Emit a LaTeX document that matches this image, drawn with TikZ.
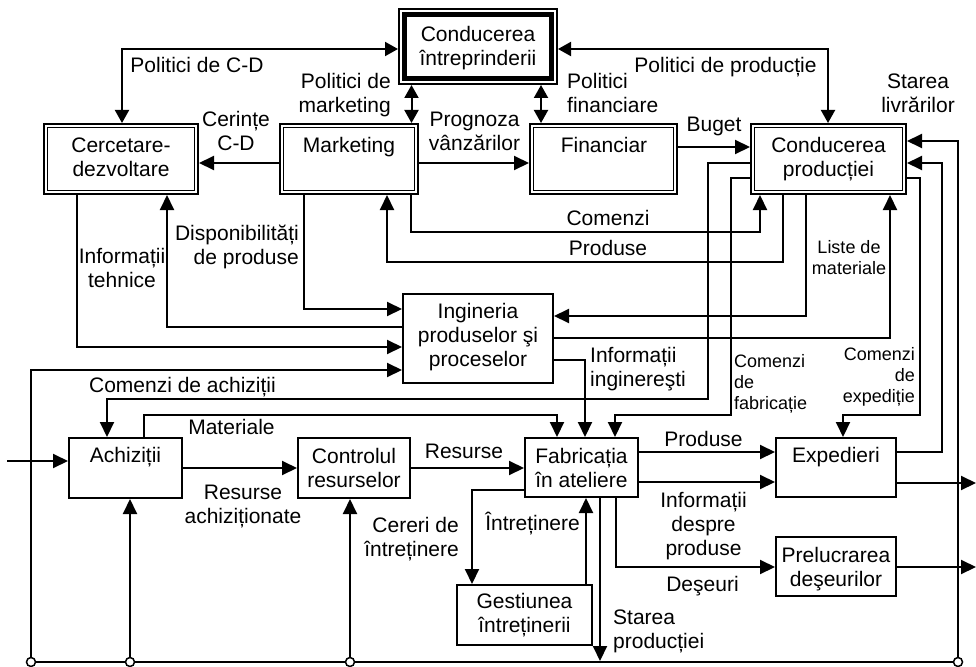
\documentclass[tikz,border=0pt]{standalone}
\usepackage{fontspec}
\setmainfont{Liberation Sans}
\usetikzlibrary{arrows.meta}
\newcommand{\sr}{\rule[-4.5pt]{0pt}{24pt}}
\newcommand{\ssr}{\rule[-4pt]{0pt}{20.9pt}}
\begin{document}
\begin{tikzpicture}[x=1pt,y=-1pt,
  every node/.style={inner sep=0pt},
  ln/.style={line width=2pt},
  ar/.style={ln,-{Triangle[length=15pt,width=14pt]}},
  ar2/.style={ln,{Triangle[length=13pt,width=14pt]}-{Triangle[length=13pt,width=14pt]}},
  dbox/.style={draw,line width=1.7pt,double,double distance=2pt,outer sep=2.7pt},
  sbox/.style={draw,line width=2pt},
  txt/.style={font=\fontsize{21}{24}\selectfont,align=center},
  stxt/.style={font=\fontsize{18}{21}\selectfont,align=center},
  bus/.style={circle,draw,fill=white,line width=1.5pt,minimum size=9pt},
]
\useasboundingbox (0,0) rectangle (976,666);

% boxes
\node[sbox,line width=1.7pt,minimum width=158.3pt,minimum height=75.3pt] (ci) at (478,46.5) {};
\draw[line width=5.5pt] ([shift={(6.7,6.7)}]ci.north west) rectangle ([shift={(-6.7,-6.7)}]ci.south east);
\node[dbox,minimum width=150.6pt,minimum height=66.6pt] (cd) at (121,159) {};
\node[dbox,minimum width=134.6pt,minimum height=66.6pt] (mk) at (349,159) {};
\node[dbox,minimum width=143.6pt,minimum height=66.6pt] (fi) at (603.5,159) {};
\node[dbox,minimum width=151.6pt,minimum height=66.6pt] (cp) at (828.5,159) {};
\node[sbox,minimum width=150pt,minimum height=89pt] (ip) at (478,338.5) {};
\node[sbox,minimum width=113pt,minimum height=60pt] (ac) at (125.5,468) {};
\node[sbox,minimum width=112pt,minimum height=60pt] (cr) at (354,468) {};
\node[sbox,minimum width=113pt,minimum height=59pt] (fa) at (581.5,467.5) {};
\node[sbox,minimum width=120pt,minimum height=59pt] (ex) at (836,467.5) {};
\node[sbox,minimum width=120pt,minimum height=59pt] (pd) at (836,566.5) {};
\node[sbox,minimum width=135pt,minimum height=60pt] (gi) at (524.5,615) {};

% box texts
\node[txt] (ciT) at (478,46.5) {\sr Conducerea\\\sr întreprinderii};
\node[txt] (cdT) at (121,156.5) {\sr Cercetare-\\\sr dezvoltare};
\node[txt] (mkT) at (349,144.5) {\sr Marketing};
\node[txt] (fiT) at (604,144.5) {\sr Financiar};
\node[txt] (cpT) at (828.5,157) {\sr Conducerea\\\sr producției};
\node[txt] (ipT) at (478,334.5) {\sr Ingineria\\\sr produselor şi\\\sr proceselor};
\node[txt] (acT) at (125.5,455) {\sr Achiziții};
\node[txt] (crT) at (354,467.5) {\sr Controlul\\\sr resurselor};
\node[txt] (faT) at (581.5,467.5) {\sr Fabricația\\\sr în ateliere};
\node[txt] (exT) at (836,455) {\sr Expedieri};
\node[txt] (pdT) at (836,566.5) {\sr Prelucrarea\\\sr deşeurilor};
\node[txt] (giT) at (524.5,613) {\sr Gestiunea\\\sr întreținerii};

% bus
\node[bus] (b1) at (31,662) {};
\node[bus] (b2) at (130,662) {};
\node[bus] (b3) at (350,662) {};
\node[bus] (b4) at (958,662) {};
\draw[ln] (b1.east) -- (b2.west) (b2.east) -- (b3.west) (b3.east) -- (b4.west);
\coordinate (in) at (7,461);
\coordinate (o1) at (976,483);
\coordinate (o2) at (976,567);
\coordinate (sp) at (600,661);

% connectors
\draw[ar2] (cd.north -| 122,0) |- (ci.west |- 0,49);
\draw[ar2] (ci.east |- 0,49) -| (cp.north -| 828,0);
\draw[ar2] (ci.south -| 411.5,0) -- (mk.north -| 411.5,0);
\draw[ar2] (ci.south -| 541,0) -- (fi.north -| 541,0);
\draw[ar] (mk.west |- 0,163) -- (cd.east |- 0,163);
\draw[ar] (mk.east |- 0,163) -- (fi.west |- 0,163);
\draw[ar] (fi.east |- 0,147) -- (cp.west |- 0,147);
\draw[ar] (b4.north) |- (cp.east |- 0,141);
\draw[ar] (ex.east |- 0,452) -- ++(45,0) |- (cp.east |- 0,163);
\draw[ar] (cp.east |- 0,178) -| (920,415) -| (ex.north -| 843,0);
\draw[ar] (cp.west |- 0,163) -| (708,399) -| (ac.north -| 107,0);
\draw[ar] (cp.west |- 0,178) -| (731,415) -| (fa.north -| 615,0);
\draw[ar] (ac.north -| 144,0) |- (557,415) -- (fa.north -| 557,0);
\draw[ar] (ip.east |- 0,360) -| (fa.north -| 585,0);
\draw[ar] (mk.south -| 411,0) |- (760,232) -- (cp.south -| 760,0);
\draw[ar] (cp.south -| 783,0) |- (387,262) -- (mk.south -| 387,0);
\draw[ar] (cp.south -| 806,0) |- (ip.east |- 0,316);
\draw[ar] (ip.east |- 0,338) -| (cp.south -| 890,0);
\draw[ar] (cd.south -| 77,0) |- (ip.west |- 0,347);
\draw[ar] (ip.west |- 0,327) -| (cd.south -| 167,0);
\draw[ar] (mk.south -| 304,0) |- (ip.west |- 0,309);
\draw[ar] (b1.north) |- (ip.west |- 0,370);
\draw[ar] (in) -- (ac.west |- in);
\draw[ar] (ac.east |- 0,468) -- (cr.west |- 0,468);
\draw[ar] (cr.east |- 0,468) -- (fa.west |- 0,468);
\draw[ar] (b2.north) -- (ac.south -| b2);
\draw[ar] (b3.north) -- (cr.south -| b3);
\draw[ar] (fa.west |- 0,490) -| (gi.north -| 472,0);
\draw[ar] (gi.north -| 586,0) -- (fa.south -| 586,0);
\draw[ar] (fa.south -| 600,0) -- (sp);
\draw[ar] (fa.east |- 0,452) -- (ex.west |- 0,452);
\draw[ar] (fa.east |- 0,482) -- (ex.west |- 0,482);
\draw[ar] (fa.south -| 616,0) |- (pd.west |- 0,567);
\draw[ar] (ex.east |- 0,483) -- (o1);
\draw[ar] (pd.east |- 0,567) -- (o2);

% labels
\node[txt] (l1) at (197,65) {\sr Politici de C-D};
\node[txt,align=right,anchor=east] (l2) at (391,93) {\sr Politici de\\\sr marketing};
\node[txt] (l3) at (236,131) {\sr Cerințe\\\sr C-D};
\node[txt] (l4) at (474.5,131) {\sr Prognoza\\\sr vânzărilor};
\node[txt,align=left,anchor=west] (l5) at (567,93) {\sr Politici\\\sr financiare};
\node[txt] (l6) at (725.5,65) {\sr Politici de producție};
\node[txt] (l7) at (714,124) {\sr Buget};
\node[txt] (l8) at (918,93) {\sr Starea\\\sr livrărilor};
\node[txt] (l9) at (608,218) {\sr Comenzi};
\node[txt] (l10) at (608,247.5) {\sr Produse};
\node[stxt] (l11) at (849,257.5) {\ssr Liste de\\\ssr materiale};
\node[txt] (l12) at (122,268) {\sr Informații\\\sr tehnice};
\node[txt,align=right,anchor=east] (l13) at (299,245) {\sr Disponibilități\\\sr de produse};
\node[txt,align=left,anchor=west] (l14) at (590,367) {\sr Informații\\\sr inginereşti};
\node[txt] (l15) at (182.5,385) {\sr Comenzi de achiziții};
\node[txt] (l16) at (231.5,427) {\sr Materiale};
\node[stxt,align=left,anchor=west] (l17) at (734,382.5) {\ssr Comenzi\\\ssr de\\\ssr fabricație};
\node[stxt,align=right,anchor=east] (l18) at (915,375.5) {\ssr Comenzi\\\ssr de\\\ssr expediție};
\node[txt] (l19) at (243,504) {\sr Resurse\\\sr achiziționate};
\node[txt] (l20) at (464,450.5) {\sr Resurse};
\node[txt,align=right,anchor=east] (l21) at (459,536.5) {\sr Cereri de\\\sr întreținere};
\node[txt,anchor=east] (l22) at (580,523) {\sr Întreținere};
\node[txt] (l23) at (703.5,439) {\sr Produse};
\node[txt] (l24) at (703.5,524.4) {\sr Informații\\\sr despre\\\sr produse};
\node[txt] (l25) at (702.5,583.5) {\sr Deşeuri};
\node[txt,align=left,anchor=west] (l26) at (613,629.3) {\sr Starea\\\sr producției};
\end{tikzpicture}
\end{document}
